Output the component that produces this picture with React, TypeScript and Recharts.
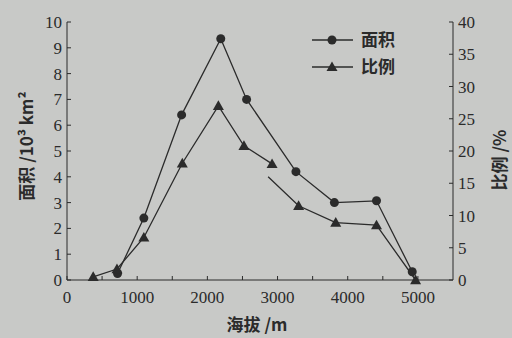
import { LineChart, Line, XAxis, YAxis } from "recharts";

const altArea = [720, 1095, 1633, 2191, 2559, 3262, 3810, 4410, 4919];
const area = [0.25, 2.4, 6.4, 9.35, 7.0, 4.2, 3.0, 3.07, 0.32];

// 比例 is drawn in two pieces, the printed line has a break after ~2900 m
const altRatioA = [373, 712, 1095, 1643, 2157, 2521, 2922];
const ratioA = [0.5, 1.7, 6.6, 18.1, 27.0, 20.8, 18.0];
const altRatioB = [2866, 3300, 3829, 4410, 4967];
const ratioB = [16.0, 11.5, 8.9, 8.5, 0];

const xTicks = [0, 500, 1000, 1500, 2000, 2500, 3000, 3500, 4000, 4500, 5000];
const leftTicks = [0, 1, 2, 3, 4, 5, 6, 7, 8, 9, 10];
const rightTicks = [0, 5, 10, 15, 20, 25, 30, 35, 40];

const areaData = altArea.map((a, i) => ({ alt: a, area: area[i] }));
const ratioDataA = altRatioA.map((a, i) => ({ alt: a, ratio: ratioA[i] }));
const ratioDataB = altRatioB.map((a, i) => ({ alt: a, ratio: ratioB[i] }));

const INK = "#2b2b2b";
const BG = "#c8c9c7";
const SERIF = "Liberation Serif";
const CJK = "Noto Sans CJK SC";

const L = 67;
const R = 453;
const B = 280;

function Circle(p: any) {
  return <circle key={"c" + p.index} cx={p.cx} cy={p.cy} r={4.5} fill={INK} />;
}

function Tri(p: any, skipFirst = false) {
  if (skipFirst && p.index === 0) return <g key={"t" + p.index} />;
  const s = 5.5;
  return (
    <polygon
      key={"t" + p.index}
      points={`${p.cx},${p.cy - s} ${p.cx - s},${p.cy + s * 0.75} ${p.cx + s},${p.cy + s * 0.75}`}
      fill={INK}
    />
  );
}

function XTick(p: any) {
  const v = p.payload.value;
  return (
    <g>
      <line x1={p.x} x2={p.x} y1={B} y2={B - 4} stroke={INK} />
      {v % 1000 === 0 && (
        <text x={p.x} y={303} textAnchor="middle" fontFamily={SERIF} fontSize={17} fill={INK}>
          {v}
        </text>
      )}
    </g>
  );
}

function LeftTick(p: any) {
  return (
    <g>
      <line x1={L} x2={L + 4} y1={p.y} y2={p.y} stroke={INK} />
      <text x={L - 5} y={p.y + 6} textAnchor="end" fontFamily={SERIF} fontSize={17} fill={INK}>
        {p.payload.value}
      </text>
    </g>
  );
}

function RightTick(p: any) {
  return (
    <g>
      <line x1={R} x2={R - 4} y1={p.y} y2={p.y} stroke={INK} />
      <text x={R + 5} y={p.y + 6} textAnchor="start" fontFamily={SERIF} fontSize={17} fill={INK}>
        {p.payload.value}
      </text>
    </g>
  );
}

function LegendBox() {
  return (
    <svg width={110} height={58} style={{ position: "absolute", left: 312, top: 26 }}>
      <line x1={0} x2={41} y1={14} y2={14} stroke={INK} strokeWidth={1.3} />
      <circle cx={20} cy={14} r={4.5} fill={INK} />
      <text x={49} y={20} fontFamily={CJK} fontSize={17} fontWeight={600} fill={INK}>面积</text>
      <line x1={0} x2={41} y1={41} y2={41} stroke={INK} strokeWidth={1.3} />
      <polygon points="20,35.5 14.5,45 25.5,45" fill={INK} />
      <text x={49} y={47} fontFamily={CJK} fontSize={17} fontWeight={600} fill={INK}>比例</text>
    </svg>
  );
}

export default function App() {
  return (
    <div style={{ position: "absolute", left: 0, top: 0, width: 512, height: 338, background: BG, overflow: "hidden" }}>
      <LineChart width={512} height={338} margin={{ top: 22, right: 0, bottom: 0, left: 0 }}>
        <XAxis
          dataKey="alt"
          type="number"
          domain={[0, 5500]}
          ticks={xTicks}
          interval={0}
          allowDuplicatedCategory={false}
          height={58}
          stroke={INK}
          tickLine={false}
          tick={<XTick />}
          label={{
            content: () => (
              <text x={257} y={331} textAnchor="middle" fontFamily={CJK} fontSize={17} fontWeight={700} fill={INK}>
                海拔 /m
              </text>
            ),
          }}
        />
        <XAxis xAxisId="top" orientation="top" type="number" domain={[0, 5500]} height={0} tick={false} tickLine={false} stroke={INK} />
        <YAxis
          yAxisId="left"
          domain={[0, 10]}
          ticks={leftTicks}
          interval={0}
          width={67}
          stroke={INK}
          tickLine={false}
          tick={<LeftTick />}
          label={{
            content: () => (
              <text x={33} y={146} transform="rotate(-90 33 146)" textAnchor="middle" fontFamily={CJK} fontSize={17} fontWeight={700} fill={INK}>
                面积 /10³ km²
              </text>
            ),
          }}
        />
        <YAxis
          yAxisId="right"
          orientation="right"
          domain={[0, 40]}
          ticks={rightTicks}
          interval={0}
          width={59}
          stroke={INK}
          tickLine={false}
          tick={<RightTick />}
          label={{
            content: () => (
              <text x={506} y={160} transform="rotate(-90 506 160)" textAnchor="middle" fontFamily={CJK} fontSize={17} fontWeight={700} fill={INK}>
                比例 /%
              </text>
            ),
          }}
        />
        <Line xAxisId={0} yAxisId="left" data={areaData} dataKey="area" stroke={INK} strokeWidth={1.3} dot={Circle} isAnimationActive={false} />
        <Line xAxisId={0} yAxisId="right" data={ratioDataA} dataKey="ratio" stroke={INK} strokeWidth={1.3} dot={(p: any) => Tri(p)} isAnimationActive={false} />
        <Line xAxisId={0} yAxisId="right" data={ratioDataB} dataKey="ratio" stroke={INK} strokeWidth={1.3} dot={(p: any) => Tri(p, true)} isAnimationActive={false} />
      </LineChart>
      <LegendBox />
    </div>
  );
}
